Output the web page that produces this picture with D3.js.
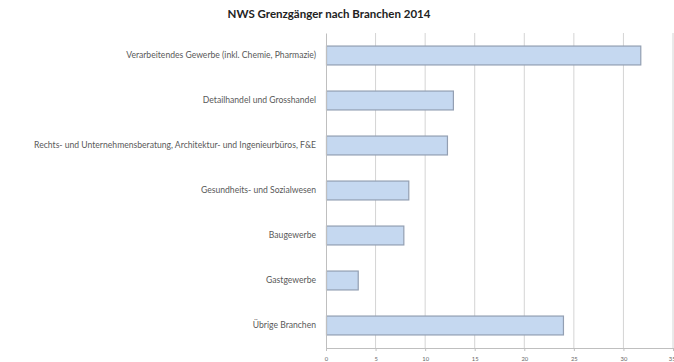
<!DOCTYPE html>
<html>
<head>
<meta charset="utf-8">
<script src="https://cdn.jsdelivr.net/npm/d3@7/dist/d3.min.js"></script>
<style>
  html, body { margin: 0; padding: 0; background: #fff; }
  svg { display: block; }
</style>
</head>
<body>
<svg id="chart" width="674" height="362"></svg>
<script>
// Cross-border commuters (NWS) by industry, 2014
const title = "NWS Grenzgänger nach Branchen 2014";
const categories = [
  "Verarbeitendes Gewerbe (inkl. Chemie, Pharmazie)",
  "Detailhandel und Grosshandel",
  "Rechts- und Unternehmensberatung, Architektur- und Ingenieurbüros, F&E",
  "Gesundheits- und Sozialwesen",
  "Baugewerbe",
  "Gastgewerbe",
  "Übrige Branchen"
];
const values = [31.7, 12.8, 12.2, 8.3, 7.8, 3.2, 23.9];
const tickValues = [0, 5, 10, 15, 20, 25, 30, 35];

const svg = d3.select("#chart");
const margin = { top: 33, left: 326, right: 1, bottom: 14 };
const width = 674 - margin.left - margin.right;
const height = 362 - margin.top - margin.bottom;

const x = d3.scaleLinear().domain([0, 35]).range([0, width]);
const y = d3.scaleBand().domain(categories).range([0, height]).paddingInner(0.58).paddingOuter(0.29);

svg.append("text")
  .attr("x", 329).attr("y", 18)
  .attr("text-anchor", "middle")
  .attr("font-family", "Lato, 'Open Sans', sans-serif")
  .attr("font-weight", "bold")
  .attr("font-size", 11.5)
  .attr("fill", "#222")
  .text(title);

const g = svg.append("g").attr("transform", `translate(${margin.left},${margin.top})`);

// vertical gridlines
g.append("g").selectAll("line").data(tickValues.slice(1)).join("line")
  .attr("x1", d => x(d)).attr("x2", d => x(d))
  .attr("y1", 0).attr("y2", height)
  .attr("stroke", "#d4d4d4").attr("stroke-width", 1);

// bars
g.append("g").selectAll("rect").data(values).join("rect")
  .attr("x", x(0) + 0.5)
  .attr("y", (d, i) => y(categories[i]))
  .attr("width", d => x(d) - x(0))
  .attr("height", y.bandwidth())
  .attr("fill", "#c5d8f0")
  .attr("stroke", "#939fb2")
  .attr("stroke-width", 1.2);

// category axis
const yAxis = g.append("g").call(d3.axisLeft(y).tickSize(0).tickPadding(10));
yAxis.select(".domain").attr("stroke", "#bfbfbf");
yAxis.selectAll("text")
  .attr("font-family", "Lato, 'Open Sans', sans-serif")
  .attr("font-size", 8.6)
  .attr("fill", "#595959");

// value axis
const xAxis = g.append("g").attr("transform", `translate(0,${height})`)
  .call(d3.axisBottom(x).tickValues(tickValues).tickSize(3).tickPadding(6).tickFormat(d3.format("d")));
xAxis.select(".domain").attr("stroke", "#bfbfbf");
xAxis.selectAll(".tick line").attr("stroke", "#bfbfbf");
xAxis.selectAll("text")
  .attr("font-family", "Lato, 'Open Sans', sans-serif")
  .attr("font-size", 5.8)
  .attr("fill", "#666");
// keep the last tick label inside the right edge
xAxis.selectAll(".tick").filter(d => d === 35).select("text").attr("text-anchor", "end").attr("dx", 2);
</script>
</body>
</html>
